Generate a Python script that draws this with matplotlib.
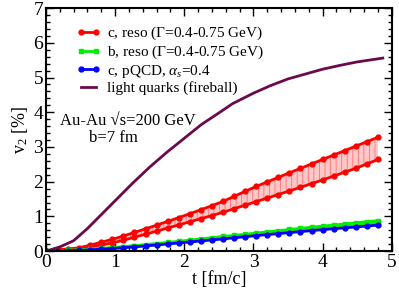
import numpy as np
import matplotlib
matplotlib.use("Agg")
import matplotlib.pyplot as plt
from matplotlib.ticker import MultipleLocator

plt.rcParams['font.family'] = ['Liberation Serif', 'DejaVu Serif']
plt.rcParams['mathtext.fontset'] = 'custom'
plt.rcParams['mathtext.rm'] = 'Liberation Serif'
plt.rcParams['mathtext.it'] = 'Liberation Serif:italic'
plt.rcParams['hatch.linewidth'] = 0.6

# light quarks (fireball)
t_light = [0, 0.2, 0.4, 0.6, 0.8, 1.0, 1.25, 1.5, 1.75, 2.0, 2.25, 2.5, 2.7, 3.0, 3.25, 3.5, 3.75, 4.0, 4.25, 4.5, 4.87]
v_light = [0, 0.12, 0.3, 0.65, 1.05, 1.45, 1.95, 2.42, 2.85, 3.25, 3.65, 3.98, 4.25, 4.55, 4.77, 4.96, 5.1, 5.24, 5.35, 5.45, 5.56]

t_knots = [0, 0.5, 1.0, 1.5, 2.0, 2.5, 3.0, 3.5, 4.0, 4.5, 4.8]
c_reso_hi = [0, 0.1, 0.36, 0.68, 1.02, 1.38, 1.83, 2.24, 2.64, 3.04, 3.28]
c_reso_lo = [0, 0.06, 0.25, 0.52, 0.8, 1.08, 1.4, 1.72, 2.05, 2.4, 2.64]
b_reso_hi = [0, 0.04, 0.11, 0.2, 0.3, 0.41, 0.51, 0.62, 0.72, 0.82, 0.88]
b_reso_lo = [0, 0.03, 0.09, 0.17, 0.27, 0.37, 0.47, 0.57, 0.66, 0.75, 0.81]
c_pqcd = [0, 0.02, 0.08, 0.16, 0.25, 0.34, 0.44, 0.53, 0.62, 0.7, 0.75]

t_pts = np.linspace(0, 4.8, 31)

fig = plt.figure(figsize=(3.99, 2.89), dpi=100)
ax = fig.add_axes([0.115, 0.131, 0.867, 0.841])

def samp(k):
    return np.interp(t_pts, t_knots, k)

red = '#ff0000'
green = '#00ee00'
blue = '#0000ff'
purple = '#6b0a4b'

hi = samp(c_reso_hi); lo = samp(c_reso_lo)
ax.fill_between(t_pts, lo, hi, facecolor='#ffc8c8', edgecolor='#ff7070', hatch='|||', linewidth=0)
bhi = samp(b_reso_hi); blo = samp(b_reso_lo)
ax.fill_between(t_pts, blo, bhi, facecolor='#b0ffb0', edgecolor='#60ff60', hatch='|||', linewidth=0)

l1, = ax.plot(t_pts, hi, color=red, lw=2, marker='o', ms=3.5, label='c, reso ($\\Gamma$=0.4-0.75 GeV)')
ax.plot(t_pts, lo, color=red, lw=2, marker='o', ms=3.5)
l2, = ax.plot(t_pts, bhi, color=green, lw=2, marker='s', ms=3.5, label='b, reso ($\\Gamma$=0.4-0.75 GeV)')
ax.plot(t_pts, blo, color=green, lw=2, marker='s', ms=3.5)
l3, = ax.plot(t_pts, samp(c_pqcd), color=blue, lw=2, marker='o', ms=3.5, label='c, pQCD, $\\alpha_s$=0.4')
l4, = ax.plot(t_light, v_light, color=purple, lw=2, label='light quarks (fireball)')

ax.set_xlim(0, 5)
ax.set_ylim(0, 7)
ax.xaxis.set_major_locator(MultipleLocator(1))
ax.xaxis.set_minor_locator(MultipleLocator(0.2))
ax.yaxis.set_major_locator(MultipleLocator(1))
ax.yaxis.set_minor_locator(MultipleLocator(0.2))
ax.tick_params(which='both', direction='in', top=True, right=True, labelsize=14, pad=2)
ax.tick_params(which='major', length=6, width=1)
ax.tick_params(which='minor', length=3, width=1)
for s in ax.spines.values():
    s.set_linewidth(1.5)

ax.set_xlabel('t [fm/c]', fontsize=13, labelpad=0)
ax.set_ylabel('v$_2$ [%]', fontsize=13, labelpad=2)

ax.legend(handles=[l1, l2, l3, l4], loc='upper left', frameon=False, fontsize=11,
          numpoints=2, handlelength=1.6, handletextpad=0.4, labelspacing=0.1,
          borderaxespad=0.7, bbox_to_anchor=(0.04, 1.0))

ax.text(0.2, 3.62, 'Au-Au \u221as=200 GeV', fontsize=12)
ax.text(0.62, 3.14, 'b=7 fm', fontsize=12)

fig.savefig('out.png', dpi=100)
